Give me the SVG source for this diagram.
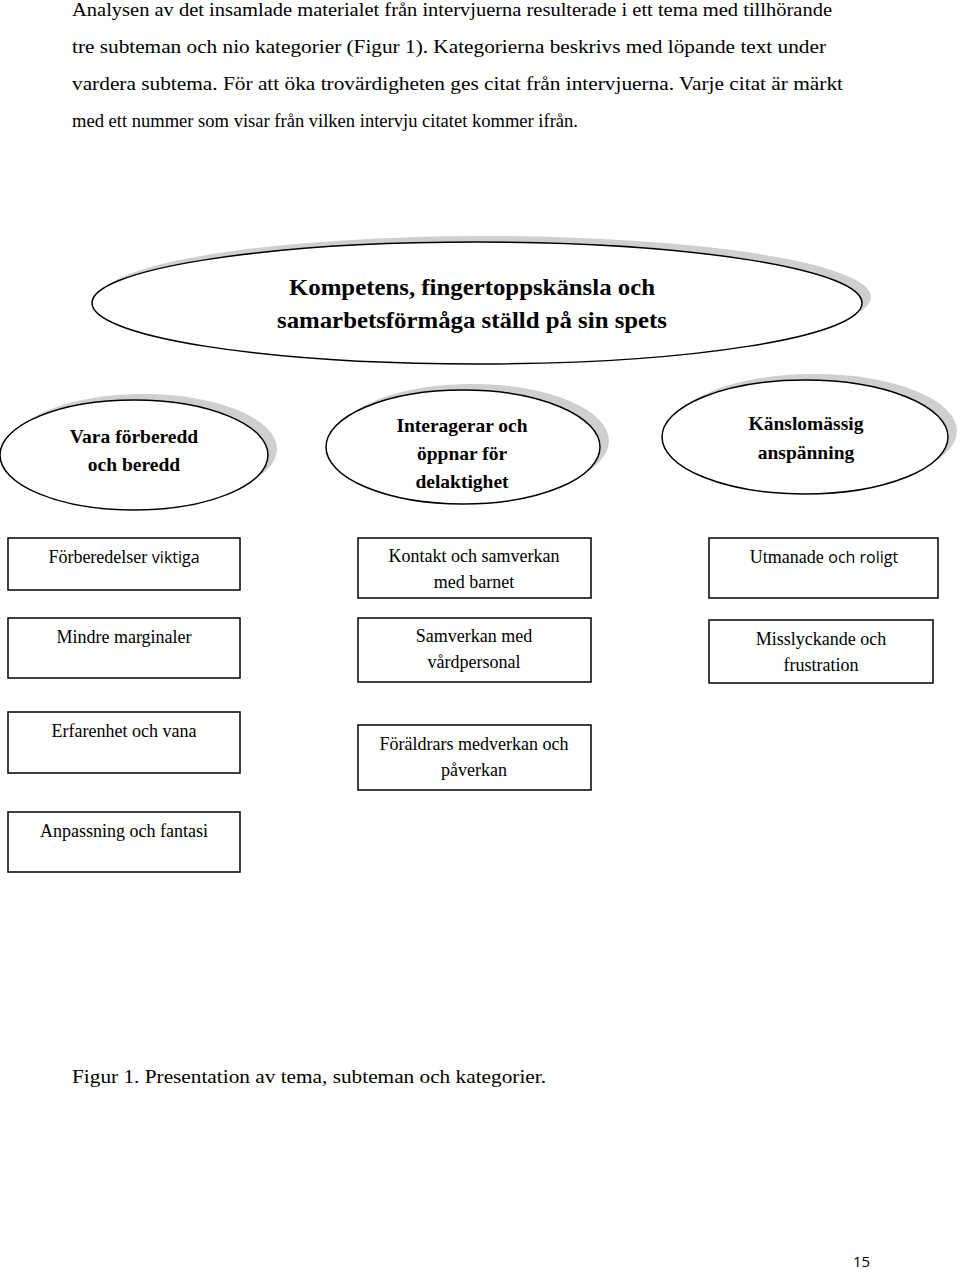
<svg xmlns="http://www.w3.org/2000/svg" width="960" height="1273" viewBox="0 0 960 1273">
<style>
.body{font-family:"Liberation Serif","Times New Roman",serif;font-size:19.5px;fill:#000}
.title{font-family:"Liberation Serif","Times New Roman",serif;font-size:24px;font-weight:bold;fill:#000;text-anchor:middle}
.sub{font-family:"Liberation Serif","Times New Roman",serif;font-size:19.5px;font-weight:bold;fill:#000;text-anchor:middle}
.cat{font-family:"Liberation Serif","Times New Roman",serif;font-size:18px;fill:#000;text-anchor:middle}
.sans{font-family:"Open Sans","Liberation Sans",sans-serif;font-size:16px}
.shadow{fill:#cfcfcf;stroke:none}
.ell{fill:#fff;stroke:#000;stroke-width:1.5}
.box{fill:#fff;stroke:#000;stroke-width:1.5}
</style>
<rect width="960" height="1273" fill="#fff"/>
<g id="intro">
<text class="body" x="72" y="16" textLength="760" lengthAdjust="spacingAndGlyphs">Analysen av det insamlade materialet från intervjuerna resulterade i ett tema med tillhörande</text>
<text class="body" x="72" y="53" textLength="754" lengthAdjust="spacingAndGlyphs">tre subteman och nio kategorier (Figur 1). Kategorierna beskrivs med löpande text under</text>
<text class="body" x="72" y="90" textLength="771" lengthAdjust="spacingAndGlyphs">vardera subtema. För att öka trovärdigheten ges citat från intervjuerna. Varje citat är märkt</text>
<text class="body" x="72" y="127" textLength="506" lengthAdjust="spacingAndGlyphs">med ett nummer som visar från vilken intervju citatet kommer ifrån.</text>
</g>
<g id="connectors"></g>
<g id="theme">
<ellipse class="shadow" cx="486" cy="297" rx="385" ry="61"/>
<ellipse class="ell" cx="477" cy="303" rx="385" ry="61"/>
<text class="title" x="472" y="295" textLength="366" lengthAdjust="spacingAndGlyphs">Kompetens, fingertoppskänsla och</text>
<text class="title" x="472" y="328" textLength="390" lengthAdjust="spacingAndGlyphs">samarbetsförmåga ställd på sin spets</text>
</g>
<g id="sub1">
<ellipse class="shadow" cx="143" cy="449" rx="134" ry="55"/>
<ellipse class="ell" cx="134" cy="455" rx="134" ry="55"/>
<text class="sub" x="134" y="443">Vara förberedd</text>
<text class="sub" x="134" y="471">och beredd</text>
</g>
<g id="sub2">
<ellipse class="shadow" cx="472" cy="441" rx="137" ry="57"/>
<ellipse class="ell" cx="463" cy="447" rx="137" ry="57"/>
<text class="sub" x="462" y="432">Interagerar och</text>
<text class="sub" x="462" y="460">öppnar för</text>
<text class="sub" x="462" y="488">delaktighet</text>
</g>
<g id="sub3">
<ellipse class="shadow" cx="814" cy="431" rx="143" ry="57"/>
<ellipse class="ell" cx="805" cy="437" rx="143" ry="57"/>
<text class="sub" x="806" y="430">Känslomässig</text>
<text class="sub" x="806" y="459">anspänning</text>
</g>
<g id="cat1">
<rect class="box" x="8" y="538" width="232" height="52"/>
<text class="cat" x="124" y="563">Förberedelser <tspan class="sans">viktiga</tspan></text>
</g>
<g id="cat2">
<rect class="box" x="8" y="618" width="232" height="60"/>
<text class="cat" x="124" y="643">Mindre marginaler</text>
</g>
<g id="cat3">
<rect class="box" x="8" y="712" width="232" height="61"/>
<text class="cat" x="124" y="737">Erfarenhet och vana</text>
</g>
<g id="cat4">
<rect class="box" x="8" y="812" width="232" height="60"/>
<text class="cat" x="124" y="837">Anpassning och fantasi</text>
</g>
<g id="cat5">
<rect class="box" x="358" y="538" width="233" height="60"/>
<text class="cat" x="474" y="562">Kontakt och samverkan</text>
<text class="cat" x="474" y="588">med barnet</text>
</g>
<g id="cat6">
<rect class="box" x="358" y="618" width="233" height="64"/>
<text class="cat" x="474" y="642">Samverkan med</text>
<text class="cat" x="474" y="668">vårdpersonal</text>
</g>
<g id="cat7">
<rect class="box" x="358" y="725" width="233" height="65"/>
<text class="cat" x="474" y="750">Föräldrars medverkan och</text>
<text class="cat" x="474" y="776">påverkan</text>
</g>
<g id="cat8">
<rect class="box" x="709" y="538" width="229" height="60"/>
<text class="cat" x="824" y="563">Utmanade <tspan class="sans">och roligt</tspan></text>
</g>
<g id="cat9">
<rect class="box" x="709" y="620" width="224" height="63"/>
<text class="cat" x="821" y="645">Misslyckande och</text>
<text class="cat" x="821" y="671">frustration</text>
</g>
<g id="caption">
<text class="body" x="72" y="1083" textLength="474" lengthAdjust="spacingAndGlyphs">Figur 1. Presentation av tema, subteman och kategorier.</text>
</g>
<g id="pagenum">
<text x="853" y="1267" style="font-family:'Open Sans','Liberation Sans',sans-serif;font-size:15px;fill:#000">15</text>
</g>
</svg>
